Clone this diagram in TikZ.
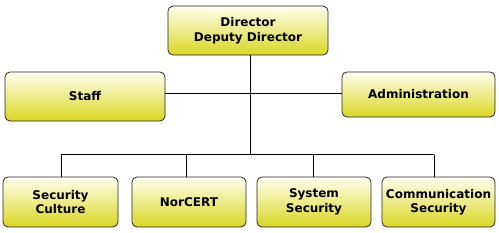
\documentclass[tikz,border=0pt]{standalone}
\usepackage{fontspec}
\setmainfont{DejaVu Sans}
\begin{document}
\begin{tikzpicture}[x=1pt,y=-1pt,
  box/.style={draw=black!85, line width=0.8pt, rounded corners=5pt,
    top color=yellow!6!white, bottom color={rgb,255:red,218;green,214;blue,34},
    align=center, inner sep=0pt,
    font=\fontsize{12}{14.5}\selectfont\bfseries},
  conn/.style={line width=0.9pt, black}]
\useasboundingbox (0,0) rectangle (499,233);
\node[box, minimum width=160pt, minimum height=49pt] (dir) at (248,30.5) {Director\\Deputy Director};
\node[box, minimum width=160pt, minimum height=49pt] (staff) at (85,96.5) {Staff};
\node[box, minimum width=153pt, minimum height=45pt] (admin) at (418.5,94.5) {Administration};
\node[box, minimum width=115pt, minimum height=50pt] (c1) at (60.5,202) {Security\\Culture};
\node[box, minimum width=114pt, minimum height=50pt] (c2) at (189,202) {NorCERT};
\node[box, minimum width=114pt, minimum height=50pt] (c3) at (314,202) {System\\Security};
\node[box, minimum width=113pt, minimum height=50pt] (c4) at (438.5,202) {Communication\\Security};
\coordinate (trunk) at (250,154.5);
\coordinate (mid) at (250,93);
\coordinate (b1) at (61,154.5);
\coordinate (b2) at (186,154.5);
\coordinate (b3) at (313,154.5);
\coordinate (b4) at (434,154.5);
\draw[conn] (dir.south -| trunk) -- (trunk);
\draw[conn] (staff.east |- mid) -- (admin.west |- mid);
\draw[conn] (b1) -- (b4);
\draw[conn] (b1) -- (c1.north -| b1);
\draw[conn] (b2) -- (c2.north -| b2);
\draw[conn] (b3) -- (c3.north -| b3);
\draw[conn] (b4) -- (c4.north -| b4);
\end{tikzpicture}
\end{document}
